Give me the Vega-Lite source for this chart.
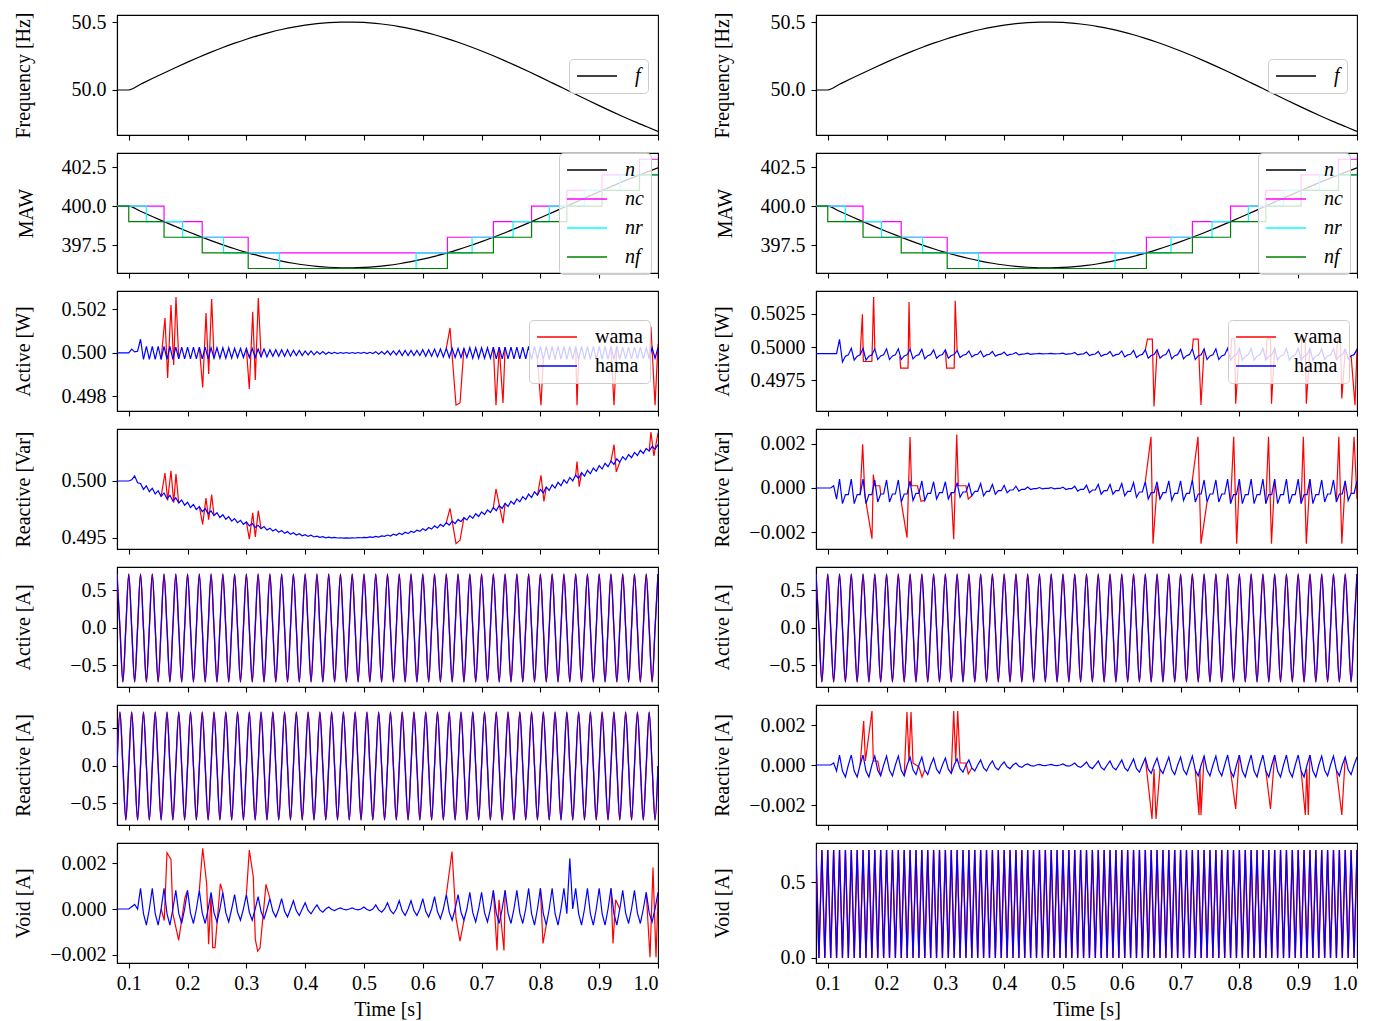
{
"$schema":"https://vega.github.io/schema/vega-lite/v6.json",
"padding":{"left":12,"top":11,"right":0,"bottom":0},
"config":{
 "font":"Liberation Serif",
 "view":{"stroke":"black","strokeWidth":1.1},
 "axis":{"grid":false,"labelFont":"Liberation Serif","titleFont":"Liberation Serif","labelFontSize":20,"titleFontSize":20,"titleFontWeight":"normal","tickSize":5,"tickColor":"black","domainColor":"black","labelColor":"black","titleColor":"black","tickWidth":1.1,"domainWidth":1.1,"labelPadding":6},
 "axisY":{"titleX":-88,"titleBaseline":"alphabetic"},
 "axisX":{"titlePadding":6,"labelPadding":5},
 "legend":{"symbolType":"M-4,0H4","symbolSize":100,"symbolStrokeWidth":1.3,"symbolOffset":11,"labelOffset":28,"labelFontSize":20,"labelFont":"Liberation Serif","labelColor":"black","fillColor":"rgba(255,255,255,0.8)","strokeColor":"#cccccc","cornerRadius":4,"padding":7,"rowPadding":9}
},
"datasets":{
"s":[
{"t":0.08,"f":50,"n":400},{"t":0.1,"f":50,"n":400},{"t":0.12,"f":50.0421,"n":399.664},{"t":0.14,"f":50.084,"n":399.33},{"t":0.16,"f":50.1252,"n":399.001},{"t":0.18,"f":50.1655,"n":398.68},{"t":0.2,"f":50.2047,"n":398.369},{"t":0.22,"f":50.2424,"n":398.07},{"t":0.24,"f":50.2784,"n":397.785},{"t":0.26,"f":50.3124,"n":397.516},{"t":0.28,"f":50.3442,"n":397.265},{"t":0.3,"f":50.3735,"n":397.034},{"t":0.32,"f":50.4001,"n":396.825},{"t":0.34,"f":50.424,"n":396.637},{"t":0.36,"f":50.4448,"n":396.473},{"t":0.38,"f":50.4625,"n":396.334},{"t":0.4,"f":50.4768,"n":396.222},{"t":0.42,"f":50.4878,"n":396.136},{"t":0.44,"f":50.4953,"n":396.077},{"t":0.46,"f":50.4993,"n":396.046},{"t":0.48,"f":50.4997,"n":396.042},{"t":0.5,"f":50.4967,"n":396.066},{"t":0.52,"f":50.4901,"n":396.118},{"t":0.54,"f":50.48,"n":396.197},{"t":0.56,"f":50.4664,"n":396.304},{"t":0.58,"f":50.4495,"n":396.436},{"t":0.6,"f":50.4294,"n":396.594},{"t":0.62,"f":50.4062,"n":396.777},{"t":0.64,"f":50.3801,"n":396.982},{"t":0.66,"f":50.3512,"n":397.21},{"t":0.68,"f":50.3201,"n":397.456},{"t":0.7,"f":50.2869,"n":397.718},{"t":0.72,"f":50.2514,"n":397.999},{"t":0.74,"f":50.2143,"n":398.293},{"t":0.76,"f":50.1755,"n":398.601},{"t":0.78,"f":50.1355,"n":398.919},{"t":0.8,"f":50.0944,"n":399.246},{"t":0.82,"f":50.0526,"n":399.58},{"t":0.84,"f":50.0105,"n":399.916},{"t":0.86,"f":49.9684,"n":400.253},{"t":0.88,"f":49.9265,"n":400.589},{"t":0.9,"f":49.8852,"n":400.921},{"t":0.92,"f":49.8446,"n":401.247},{"t":0.94,"f":49.8053,"n":401.564},{"t":0.96,"f":49.7674,"n":401.87},{"t":0.98,"f":49.7313,"n":402.161},{"t":1.0,"f":49.696,"n":402.447}
],
"st":[
{"s":"c","t":0.08,"n":400},{"s":"c","t":0.16,"n":399},{"s":"c","t":0.2249,"n":398},{"s":"c","t":0.3031,"n":397},{"s":"c","t":0.6419,"n":398},{"s":"c","t":0.7201,"n":399},{"s":"c","t":0.785,"n":400},{"s":"c","t":0.845,"n":401},{"s":"c","t":0.9048,"n":402},{"s":"c","t":0.9685,"n":403},{"s":"c","t":1.0,"n":403},
{"s":"r","t":0.08,"n":400},{"s":"r","t":0.1298,"n":399},{"s":"r","t":0.1915,"n":398},{"s":"r","t":0.2612,"n":397},{"s":"r","t":0.3564,"n":396},{"s":"r","t":0.5886,"n":397},{"s":"r","t":0.6838,"n":398},{"s":"r","t":0.7535,"n":399},{"s":"r","t":0.8152,"n":400},{"s":"r","t":0.8747,"n":401},{"s":"r","t":0.9358,"n":402},{"s":"r","t":1.0,"n":402},
{"s":"f","t":0.08,"n":400},{"s":"f","t":0.1,"n":399},{"s":"f","t":0.16,"n":398},{"s":"f","t":0.2249,"n":397},{"s":"f","t":0.3031,"n":396},{"s":"f","t":0.6419,"n":397},{"s":"f","t":0.7201,"n":398},{"s":"f","t":0.785,"n":399},{"s":"f","t":0.845,"n":400},{"s":"f","t":0.9048,"n":401},{"s":"f","t":0.9685,"n":402},{"s":"f","t":1.0,"n":402}
],
"g":[
{"t":0.08,"a":0.72,"r":0,"v":0.71,"p":0.5,"q":0.5,"w":0,"pp":0.4995,"qq":0,"rr":0},
{"t":0.085,"a":0,"r":0.72,"v":0,"p":0.5,"q":0.5,"w":0,"pp":0.4995,"qq":0,"rr":0},
{"t":0.09,"a":-0.72,"r":0,"v":0.71,"p":0.5,"q":0.5,"w":0,"pp":0.4995,"qq":0,"rr":0},
{"t":0.095,"a":0,"r":-0.72,"v":0,"p":0.5,"q":0.5,"w":0,"pp":0.4995,"qq":0,"rr":0},
{"t":0.1,"a":0.72,"r":0,"v":0.71,"p":0.5,"q":0.5,"w":0,"pp":0.4995,"qq":0,"rr":0},
{"t":0.105,"a":0,"r":0.72,"v":0,"p":0.50018,"q":0.5001,"w":0.0001,"pp":0.4995,"qq":0,"rr":0},
{"t":0.11,"a":-0.72,"r":0,"v":0.71,"p":0.50005,"q":0.50045,"w":0.0002,"pp":0.4995,"qq":0.0001,"rr":0.0001},
{"t":0.115,"a":0,"r":-0.72,"v":0,"p":0.50008,"q":0.49985,"w":0,"pp":0.4995,"qq":-0.0005,"rr":-0.0003},
{"t":0.12,"a":0.72,"r":0,"v":0.71,"p":0.50063,"q":0.49978,"w":0.0009,"pp":0.50058,"qq":0.0004,"rr":0.0005},
{"t":0.125,"a":0,"r":0.72,"v":0,"p":0.4997,"q":0.49927,"w":-0.0002,"pp":0.49886,"qq":-0.0007,"rr":-0.0003},
{"t":0.13,"a":-0.72,"r":0,"v":0.71,"p":0.5003,"q":0.49957,"w":-0.0007,"pp":0.4993,"qq":-0.0003,"rr":-0.0006},
{"t":0.135,"a":0,"r":-0.72,"v":0,"p":0.4997,"q":0.49906,"w":0,"pp":0.4994,"qq":-0.0003,"rr":0},
{"t":0.14,"a":0.72,"r":0,"v":0.71,"p":0.5003,"q":0.49936,"w":0.0009,"pp":0.4999,"qq":0.0004,"rr":0.0005},
{"t":0.145,"a":0,"r":0.72,"v":0,"p":0.4997,"q":0.49886,"w":-0.0002,"pp":0.499,"qq":-0.0007,"rr":-0.0003},
{"t":0.15,"a":-0.72,"r":0,"v":0.71,"p":0.5003,"q":0.49915,"w":-0.0007,"pp":0.4993,"qq":-0.0003,"rr":-0.0006},
{"t":0.155,"a":0,"r":-0.72,"v":0,"p":0.4997,"q":0.49865,"w":0,"pp":0.4994,"qq":-0.0003,"rr":0},
{"t":0.16,"a":0.72,"r":0,"v":0.71,"p":0.5003,"q":0.49895,"w":0.0009,"pp":0.4999,"qq":0.0004,"rr":0.0005},
{"t":0.165,"a":0,"r":0.72,"v":0,"p":0.4997,"q":0.49845,"w":-0.0002,"pp":0.499,"qq":-0.0007,"rr":-0.0003},
{"t":0.17,"a":-0.72,"r":0,"v":0.71,"p":0.5003,"q":0.49875,"w":-0.0007,"pp":0.4993,"qq":-0.0003,"rr":-0.0006},
{"t":0.175,"a":0,"r":-0.72,"v":0,"p":0.4997,"q":0.49825,"w":0,"pp":0.4994,"qq":-0.0003,"rr":0},
{"t":0.18,"a":0.72,"r":0,"v":0.71,"p":0.50027,"q":0.49853,"w":0.00081,"pp":0.49986,"qq":0.00036,"rr":0.00045},
{"t":0.185,"a":0,"r":0.72,"v":0,"p":0.49973,"q":0.49807,"w":-0.00018,"pp":0.49905,"qq":-0.00063,"rr":-0.00027},
{"t":0.19,"a":-0.72,"r":0,"v":0.71,"p":0.50027,"q":0.49833,"w":-0.00063,"pp":0.49932,"qq":-0.00027,"rr":-0.00054},
{"t":0.195,"a":0,"r":-0.72,"v":0,"p":0.49973,"q":0.49787,"w":0,"pp":0.49941,"qq":-0.00027,"rr":0},
{"t":0.2,"a":0.72,"r":0,"v":0.71,"p":0.50027,"q":0.49813,"w":0.00081,"pp":0.49986,"qq":0.00036,"rr":0.00045},
{"t":0.205,"a":0,"r":0.72,"v":0,"p":0.49973,"q":0.49768,"w":-0.00018,"pp":0.49905,"qq":-0.00063,"rr":-0.00027},
{"t":0.21,"a":-0.72,"r":0,"v":0.71,"p":0.50027,"q":0.49794,"w":-0.00063,"pp":0.49932,"qq":-0.00027,"rr":-0.00054},
{"t":0.215,"a":0,"r":-0.72,"v":0,"p":0.49973,"q":0.49749,"w":0,"pp":0.49941,"qq":-0.00027,"rr":0},
{"t":0.22,"a":0.72,"r":0,"v":0.71,"p":0.50027,"q":0.49776,"w":0.00081,"pp":0.49986,"qq":0.00036,"rr":0.00045},
{"t":0.225,"a":0,"r":0.72,"v":0,"p":0.49973,"q":0.49731,"w":-0.00018,"pp":0.49905,"qq":-0.00063,"rr":-0.00027},
{"t":0.23,"a":-0.72,"r":0,"v":0.71,"p":0.50027,"q":0.49758,"w":-0.00063,"pp":0.49932,"qq":-0.00027,"rr":-0.00054},
{"t":0.235,"a":0,"r":-0.72,"v":0,"p":0.49973,"q":0.49713,"w":0,"pp":0.49941,"qq":-0.00027,"rr":0},
{"t":0.24,"a":0.72,"r":0,"v":0.71,"p":0.50024,"q":0.49738,"w":0.00072,"pp":0.49982,"qq":0.00032,"rr":0.0004},
{"t":0.245,"a":0,"r":0.72,"v":0,"p":0.49976,"q":0.49697,"w":-0.00016,"pp":0.4991,"qq":-0.00056,"rr":-0.00024},
{"t":0.25,"a":-0.72,"r":0,"v":0.71,"p":0.50024,"q":0.49721,"w":-0.00056,"pp":0.49934,"qq":-0.00024,"rr":-0.00048},
{"t":0.255,"a":0,"r":-0.72,"v":0,"p":0.49976,"q":0.4968,"w":0,"pp":0.49942,"qq":-0.00024,"rr":0},
{"t":0.26,"a":0.72,"r":0,"v":0.71,"p":0.50024,"q":0.49704,"w":0.00072,"pp":0.49982,"qq":0.00032,"rr":0.0004},
{"t":0.265,"a":0,"r":0.72,"v":0,"p":0.49976,"q":0.49664,"w":-0.00016,"pp":0.4991,"qq":-0.00056,"rr":-0.00024},
{"t":0.27,"a":-0.72,"r":0,"v":0.71,"p":0.50024,"q":0.49688,"w":-0.00056,"pp":0.49934,"qq":-0.00024,"rr":-0.00048},
{"t":0.275,"a":0,"r":-0.72,"v":0,"p":0.49976,"q":0.49648,"w":0,"pp":0.49942,"qq":-0.00024,"rr":0},
{"t":0.28,"a":0.72,"r":0,"v":0.71,"p":0.50021,"q":0.4967,"w":0.00063,"pp":0.49978,"qq":0.00028,"rr":0.00035},
{"t":0.285,"a":0,"r":0.72,"v":0,"p":0.49979,"q":0.49635,"w":-0.00014,"pp":0.49915,"qq":-0.00049,"rr":-0.00021},
{"t":0.29,"a":-0.72,"r":0,"v":0.71,"p":0.50021,"q":0.49655,"w":-0.00049,"pp":0.49936,"qq":-0.00021,"rr":-0.00042},
{"t":0.295,"a":0,"r":-0.72,"v":0,"p":0.49979,"q":0.4962,"w":0,"pp":0.49943,"qq":-0.00021,"rr":0},
{"t":0.3,"a":0.72,"r":0,"v":0.71,"p":0.50021,"q":0.49641,"w":0.00063,"pp":0.49978,"qq":0.00028,"rr":0.00035},
{"t":0.305,"a":0,"r":0.72,"v":0,"p":0.49979,"q":0.49606,"w":-0.00014,"pp":0.49915,"qq":-0.00049,"rr":-0.00021},
{"t":0.31,"a":-0.72,"r":0,"v":0.71,"p":0.50021,"q":0.49627,"w":-0.00049,"pp":0.49936,"qq":-0.00021,"rr":-0.00042},
{"t":0.315,"a":0,"r":-0.72,"v":0,"p":0.49979,"q":0.49593,"w":0,"pp":0.49943,"qq":-0.00021,"rr":0},
{"t":0.32,"a":0.72,"r":0,"v":0.71,"p":0.50018,"q":0.49612,"w":0.00054,"pp":0.49974,"qq":0.00024,"rr":0.0003},
{"t":0.325,"a":0,"r":0.72,"v":0,"p":0.49982,"q":0.49582,"w":-0.00012,"pp":0.4992,"qq":-0.00042,"rr":-0.00018},
{"t":0.33,"a":-0.72,"r":0,"v":0.71,"p":0.50018,"q":0.496,"w":-0.00042,"pp":0.49938,"qq":-0.00018,"rr":-0.00036},
{"t":0.335,"a":0,"r":-0.72,"v":0,"p":0.49982,"q":0.4957,"w":0,"pp":0.49944,"qq":-0.00018,"rr":0},
{"t":0.34,"a":0.72,"r":0,"v":0.71,"p":0.50015,"q":0.49586,"w":0.00045,"pp":0.4997,"qq":0.0002,"rr":0.00025},
{"t":0.345,"a":0,"r":0.72,"v":0,"p":0.49985,"q":0.49561,"w":-0.0001,"pp":0.49925,"qq":-0.00035,"rr":-0.00015},
{"t":0.35,"a":-0.72,"r":0,"v":0.71,"p":0.50015,"q":0.49576,"w":-0.00035,"pp":0.4994,"qq":-0.00015,"rr":-0.0003},
{"t":0.355,"a":0,"r":-0.72,"v":0,"p":0.49985,"q":0.4955,"w":0,"pp":0.49945,"qq":-0.00015,"rr":0},
{"t":0.36,"a":0.72,"r":0,"v":0.71,"p":0.50015,"q":0.49565,"w":0.00045,"pp":0.4997,"qq":0.0002,"rr":0.00025},
{"t":0.365,"a":0,"r":0.72,"v":0,"p":0.49985,"q":0.49541,"w":-0.0001,"pp":0.49925,"qq":-0.00035,"rr":-0.00015},
{"t":0.37,"a":-0.72,"r":0,"v":0.71,"p":0.50015,"q":0.49556,"w":-0.00035,"pp":0.4994,"qq":-0.00015,"rr":-0.0003},
{"t":0.375,"a":0,"r":-0.72,"v":0,"p":0.49985,"q":0.49532,"w":0,"pp":0.49945,"qq":-0.00015,"rr":0},
{"t":0.38,"a":0.72,"r":0,"v":0.71,"p":0.50012,"q":0.49546,"w":0.00036,"pp":0.49966,"qq":0.00016,"rr":0.0002},
{"t":0.385,"a":0,"r":0.72,"v":0,"p":0.49988,"q":0.49526,"w":-0.00008,"pp":0.4993,"qq":-0.00028,"rr":-0.00012},
{"t":0.39,"a":-0.72,"r":0,"v":0.71,"p":0.50012,"q":0.49538,"w":-0.00028,"pp":0.49942,"qq":-0.00012,"rr":-0.00024},
{"t":0.395,"a":0,"r":-0.72,"v":0,"p":0.49988,"q":0.49519,"w":0,"pp":0.49946,"qq":-0.00012,"rr":0},
{"t":0.4,"a":0.72,"r":0,"v":0.71,"p":0.50009,"q":0.49529,"w":0.00027,"pp":0.49962,"qq":0.00012,"rr":0.00015},
{"t":0.405,"a":0,"r":0.72,"v":0,"p":0.49991,"q":0.49514,"w":-0.00006,"pp":0.49935,"qq":-0.00021,"rr":-0.00009},
{"t":0.41,"a":-0.72,"r":0,"v":0.71,"p":0.50009,"q":0.49524,"w":-0.00021,"pp":0.49944,"qq":-0.00009,"rr":-0.00018},
{"t":0.415,"a":0,"r":-0.72,"v":0,"p":0.49991,"q":0.49509,"w":0,"pp":0.49947,"qq":-0.00009,"rr":0},
{"t":0.42,"a":0.72,"r":0,"v":0.71,"p":0.50006,"q":0.49516,"w":0.00018,"pp":0.49958,"qq":0.00008,"rr":0.0001},
{"t":0.425,"a":0,"r":0.72,"v":0,"p":0.49994,"q":0.49506,"w":-0.00004,"pp":0.4994,"qq":-0.00014,"rr":-0.00006},
{"t":0.43,"a":-0.72,"r":0,"v":0.71,"p":0.50006,"q":0.49512,"w":-0.00014,"pp":0.49946,"qq":-0.00006,"rr":-0.00012},
{"t":0.435,"a":0,"r":-0.72,"v":0,"p":0.49994,"q":0.49502,"w":0,"pp":0.49948,"qq":-0.00006,"rr":0},
{"t":0.44,"a":0.72,"r":0,"v":0.71,"p":0.50003,"q":0.49507,"w":0.00009,"pp":0.49954,"qq":0.00004,"rr":0.00005},
{"t":0.445,"a":0,"r":0.72,"v":0,"p":0.49997,"q":0.49502,"w":-0.00002,"pp":0.49945,"qq":-0.00007,"rr":-0.00003},
{"t":0.45,"a":-0.72,"r":0,"v":0.71,"p":0.50003,"q":0.49505,"w":-0.00007,"pp":0.49948,"qq":-0.00003,"rr":-0.00006},
{"t":0.455,"a":0,"r":-0.72,"v":0,"p":0.49997,"q":0.495,"w":0,"pp":0.49949,"qq":-0.00003,"rr":0},
{"t":0.46,"a":0.72,"r":0,"v":0.71,"p":0.50002,"q":0.49502,"w":0.00005,"pp":0.49952,"qq":0.00002,"rr":0.00003},
{"t":0.465,"a":0,"r":0.72,"v":0,"p":0.49998,"q":0.49499,"w":-0.00001,"pp":0.49948,"qq":-0.00004,"rr":-0.00002},
{"t":0.47,"a":-0.72,"r":0,"v":0.71,"p":0.50002,"q":0.49501,"w":-0.00004,"pp":0.49949,"qq":-0.00002,"rr":-0.00003},
{"t":0.475,"a":0,"r":-0.72,"v":0,"p":0.49998,"q":0.49499,"w":0,"pp":0.4995,"qq":-0.00002,"rr":0},
{"t":0.48,"a":0.72,"r":0,"v":0.71,"p":0.50002,"q":0.49501,"w":0.00005,"pp":0.49952,"qq":0.00002,"rr":0.00003},
{"t":0.485,"a":0,"r":0.72,"v":0,"p":0.49998,"q":0.495,"w":-0.00001,"pp":0.49948,"qq":-0.00004,"rr":-0.00002},
{"t":0.49,"a":-0.72,"r":0,"v":0.71,"p":0.50002,"q":0.49503,"w":-0.00004,"pp":0.49949,"qq":-0.00002,"rr":-0.00003},
{"t":0.495,"a":0,"r":-0.72,"v":0,"p":0.49998,"q":0.49502,"w":0,"pp":0.4995,"qq":-0.00002,"rr":0},
{"t":0.5,"a":0.72,"r":0,"v":0.71,"p":0.50003,"q":0.49505,"w":0.00009,"pp":0.49954,"qq":0.00004,"rr":0.00005},
{"t":0.505,"a":0,"r":0.72,"v":0,"p":0.49997,"q":0.49503,"w":-0.00002,"pp":0.49945,"qq":-0.00007,"rr":-0.00003},
{"t":0.51,"a":-0.72,"r":0,"v":0.71,"p":0.50003,"q":0.49509,"w":-0.00007,"pp":0.49948,"qq":-0.00003,"rr":-0.00006},
{"t":0.515,"a":0,"r":-0.72,"v":0,"p":0.49997,"q":0.49506,"w":0,"pp":0.49949,"qq":-0.00003,"rr":0},
{"t":0.52,"a":0.72,"r":0,"v":0.71,"p":0.50006,"q":0.49514,"w":0.00018,"pp":0.49958,"qq":0.00008,"rr":0.0001},
{"t":0.525,"a":0,"r":0.72,"v":0,"p":0.49994,"q":0.49508,"w":-0.00004,"pp":0.4994,"qq":-0.00014,"rr":-0.00006},
{"t":0.53,"a":-0.72,"r":0,"v":0.71,"p":0.50006,"q":0.49519,"w":-0.00014,"pp":0.49946,"qq":-0.00006,"rr":-0.00012},
{"t":0.535,"a":0,"r":-0.72,"v":0,"p":0.49994,"q":0.49514,"w":0,"pp":0.49948,"qq":-0.00006,"rr":0},
{"t":0.54,"a":0.72,"r":0,"v":0.71,"p":0.50009,"q":0.49526,"w":0.00027,"pp":0.49962,"qq":0.00012,"rr":0.00015},
{"t":0.545,"a":0,"r":0.72,"v":0,"p":0.49991,"q":0.49517,"w":-0.00006,"pp":0.49935,"qq":-0.00021,"rr":-0.00009},
{"t":0.55,"a":-0.72,"r":0,"v":0.71,"p":0.50009,"q":0.49533,"w":-0.00021,"pp":0.49944,"qq":-0.00009,"rr":-0.00018},
{"t":0.555,"a":0,"r":-0.72,"v":0,"p":0.49991,"q":0.49524,"w":0,"pp":0.49947,"qq":-0.00009,"rr":0},
{"t":0.56,"a":0.72,"r":0,"v":0.71,"p":0.50012,"q":0.49542,"w":0.00036,"pp":0.49966,"qq":0.00016,"rr":0.0002},
{"t":0.565,"a":0,"r":0.72,"v":0,"p":0.49988,"q":0.4953,"w":-0.00008,"pp":0.4993,"qq":-0.00028,"rr":-0.00012},
{"t":0.57,"a":-0.72,"r":0,"v":0.71,"p":0.50012,"q":0.4955,"w":-0.00028,"pp":0.49942,"qq":-0.00012,"rr":-0.00024},
{"t":0.575,"a":0,"r":-0.72,"v":0,"p":0.49988,"q":0.49538,"w":0,"pp":0.49946,"qq":-0.00012,"rr":0},
{"t":0.58,"a":0.72,"r":0,"v":0.71,"p":0.50012,"q":0.49559,"w":0.00036,"pp":0.49966,"qq":0.00016,"rr":0.0002},
{"t":0.585,"a":0,"r":0.72,"v":0,"p":0.49988,"q":0.49548,"w":-0.00008,"pp":0.4993,"qq":-0.00028,"rr":-0.00012},
{"t":0.59,"a":-0.72,"r":0,"v":0.71,"p":0.50012,"q":0.49569,"w":-0.00028,"pp":0.49942,"qq":-0.00012,"rr":-0.00024},
{"t":0.595,"a":0,"r":-0.72,"v":0,"p":0.49988,"q":0.49558,"w":0,"pp":0.49946,"qq":-0.00012,"rr":0},
{"t":0.6,"a":0.72,"r":0,"v":0.71,"p":0.50015,"q":0.49581,"w":0.00045,"pp":0.4997,"qq":0.0002,"rr":0.00025},
{"t":0.605,"a":0,"r":0.72,"v":0,"p":0.49985,"q":0.49566,"w":-0.0001,"pp":0.49925,"qq":-0.00035,"rr":-0.00015},
{"t":0.61,"a":-0.72,"r":0,"v":0.71,"p":0.50015,"q":0.49592,"w":-0.00035,"pp":0.4994,"qq":-0.00015,"rr":-0.0003},
{"t":0.615,"a":0,"r":-0.72,"v":0,"p":0.49985,"q":0.49578,"w":0,"pp":0.49945,"qq":-0.00015,"rr":0},
{"t":0.62,"a":0.72,"r":0,"v":0.71,"p":0.50018,"q":0.49606,"w":0.00054,"pp":0.49974,"qq":0.00024,"rr":0.0003},
{"t":0.625,"a":0,"r":0.72,"v":0,"p":0.49982,"q":0.49588,"w":-0.00012,"pp":0.4992,"qq":-0.00042,"rr":-0.00018},
{"t":0.63,"a":-0.72,"r":0,"v":0.71,"p":0.50018,"q":0.49619,"w":-0.00042,"pp":0.49938,"qq":-0.00018,"rr":-0.00036},
{"t":0.635,"a":0,"r":-0.72,"v":0,"p":0.49982,"q":0.49601,"w":0,"pp":0.49944,"qq":-0.00018,"rr":0},
{"t":0.64,"a":0.72,"r":0,"v":0.71,"p":0.50021,"q":0.49634,"w":0.00063,"pp":0.49978,"qq":0.00028,"rr":0.00035},
{"t":0.645,"a":0,"r":0.72,"v":0,"p":0.49979,"q":0.49613,"w":-0.00014,"pp":0.49915,"qq":-0.00049,"rr":-0.00021},
{"t":0.65,"a":-0.72,"r":0,"v":0.71,"p":0.50021,"q":0.49648,"w":-0.00049,"pp":0.49936,"qq":-0.00021,"rr":-0.00042},
{"t":0.655,"a":0,"r":-0.72,"v":0,"p":0.49979,"q":0.49627,"w":0,"pp":0.49943,"qq":-0.00021,"rr":0},
{"t":0.66,"a":0.72,"r":0,"v":0.71,"p":0.50021,"q":0.49663,"w":0.00063,"pp":0.49978,"qq":0.00028,"rr":0.00035},
{"t":0.665,"a":0,"r":0.72,"v":0,"p":0.49979,"q":0.49643,"w":-0.00014,"pp":0.49915,"qq":-0.00049,"rr":-0.00021},
{"t":0.67,"a":-0.72,"r":0,"v":0.71,"p":0.50021,"q":0.49678,"w":-0.00049,"pp":0.49936,"qq":-0.00021,"rr":-0.00042},
{"t":0.675,"a":0,"r":-0.72,"v":0,"p":0.49979,"q":0.49658,"w":0,"pp":0.49943,"qq":-0.00021,"rr":0},
{"t":0.68,"a":0.72,"r":0,"v":0.71,"p":0.50024,"q":0.49696,"w":0.00072,"pp":0.49982,"qq":0.00032,"rr":0.0004},
{"t":0.685,"a":0,"r":0.72,"v":0,"p":0.49976,"q":0.49672,"w":-0.00016,"pp":0.4991,"qq":-0.00056,"rr":-0.00024},
{"t":0.69,"a":-0.72,"r":0,"v":0.71,"p":0.50024,"q":0.49713,"w":-0.00056,"pp":0.49934,"qq":-0.00024,"rr":-0.00048},
{"t":0.695,"a":0,"r":-0.72,"v":0,"p":0.49976,"q":0.49689,"w":0,"pp":0.49942,"qq":-0.00024,"rr":0},
{"t":0.7,"a":0.72,"r":0,"v":0.71,"p":0.50024,"q":0.49729,"w":0.00072,"pp":0.49982,"qq":0.00032,"rr":0.0004},
{"t":0.705,"a":0,"r":0.72,"v":0,"p":0.49976,"q":0.49706,"w":-0.00016,"pp":0.4991,"qq":-0.00056,"rr":-0.00024},
{"t":0.71,"a":-0.72,"r":0,"v":0.71,"p":0.50024,"q":0.49747,"w":-0.00056,"pp":0.49934,"qq":-0.00024,"rr":-0.00048},
{"t":0.715,"a":0,"r":-0.72,"v":0,"p":0.49976,"q":0.49724,"w":0,"pp":0.49942,"qq":-0.00024,"rr":0},
{"t":0.72,"a":0.72,"r":0,"v":0.71,"p":0.50027,"q":0.49767,"w":0.00081,"pp":0.49986,"qq":0.00036,"rr":0.00045},
{"t":0.725,"a":0,"r":0.72,"v":0,"p":0.49973,"q":0.4974,"w":-0.00018,"pp":0.49905,"qq":-0.00063,"rr":-0.00027},
{"t":0.73,"a":-0.72,"r":0,"v":0.71,"p":0.50027,"q":0.49785,"w":-0.00063,"pp":0.49932,"qq":-0.00027,"rr":-0.00054},
{"t":0.735,"a":0,"r":-0.72,"v":0,"p":0.49973,"q":0.49759,"w":0,"pp":0.49941,"qq":-0.00027,"rr":0},
{"t":0.74,"a":0.72,"r":0,"v":0.71,"p":0.50027,"q":0.49804,"w":0.00081,"pp":0.49986,"qq":0.00036,"rr":0.00045},
{"t":0.745,"a":0,"r":0.72,"v":0,"p":0.49973,"q":0.49777,"w":-0.00018,"pp":0.49905,"qq":-0.00063,"rr":-0.00027},
{"t":0.75,"a":-0.72,"r":0,"v":0.71,"p":0.50027,"q":0.49823,"w":-0.00063,"pp":0.49932,"qq":-0.00027,"rr":-0.00054},
{"t":0.755,"a":0,"r":-0.72,"v":0,"p":0.49973,"q":0.49797,"w":0,"pp":0.49941,"qq":-0.00027,"rr":0},
{"t":0.76,"a":0.72,"r":0,"v":0.71,"p":0.50027,"q":0.49843,"w":0.00081,"pp":0.49986,"qq":0.00036,"rr":0.00045},
{"t":0.765,"a":0,"r":0.72,"v":0,"p":0.49973,"q":0.49817,"w":-0.00018,"pp":0.49905,"qq":-0.00063,"rr":-0.00027},
{"t":0.77,"a":-0.72,"r":0,"v":0.71,"p":0.50027,"q":0.49863,"w":-0.00063,"pp":0.49932,"qq":-0.00027,"rr":-0.00054},
{"t":0.775,"a":0,"r":-0.72,"v":0,"p":0.49973,"q":0.49837,"w":0,"pp":0.49941,"qq":-0.00027,"rr":0},
{"t":0.78,"a":0.72,"r":0,"v":0.71,"p":0.5003,"q":0.49885,"w":0.0009,"pp":0.4999,"qq":0.0004,"rr":0.0005},
{"t":0.785,"a":0,"r":0.72,"v":0,"p":0.4997,"q":0.49855,"w":-0.0002,"pp":0.499,"qq":-0.0007,"rr":-0.0003},
{"t":0.79,"a":-0.72,"r":0,"v":0.71,"p":0.5003,"q":0.49905,"w":-0.0007,"pp":0.4993,"qq":-0.0003,"rr":-0.0006},
{"t":0.795,"a":0,"r":-0.72,"v":0,"p":0.4997,"q":0.49875,"w":0,"pp":0.4994,"qq":-0.0003,"rr":0},
{"t":0.8,"a":0.72,"r":0,"v":0.71,"p":0.5003,"q":0.49926,"w":0.0009,"pp":0.4999,"qq":0.0004,"rr":0.0005},
{"t":0.805,"a":0,"r":0.72,"v":0,"p":0.4997,"q":0.49896,"w":-0.0002,"pp":0.499,"qq":-0.0007,"rr":-0.0003},
{"t":0.81,"a":-0.72,"r":0,"v":0.71,"p":0.5003,"q":0.49947,"w":-0.0007,"pp":0.4993,"qq":-0.0003,"rr":-0.0006},
{"t":0.815,"a":0,"r":-0.72,"v":0,"p":0.4997,"q":0.49917,"w":0,"pp":0.4994,"qq":-0.0003,"rr":0},
{"t":0.82,"a":0.72,"r":0,"v":0.71,"p":0.5003,"q":0.49967,"w":0.0009,"pp":0.4999,"qq":0.0004,"rr":0.0005},
{"t":0.825,"a":0,"r":0.72,"v":0,"p":0.4997,"q":0.49938,"w":-0.0002,"pp":0.499,"qq":-0.0007,"rr":-0.0003},
{"t":0.83,"a":-0.72,"r":0,"v":0.71,"p":0.5003,"q":0.49988,"w":-0.0007,"pp":0.4993,"qq":-0.0003,"rr":-0.0006},
{"t":0.835,"a":0,"r":-0.72,"v":0,"p":0.4997,"q":0.49959,"w":0,"pp":0.4994,"qq":-0.0003,"rr":0},
{"t":0.84,"a":0.72,"r":0,"v":0.71,"p":0.5003,"q":0.5001,"w":0.0009,"pp":0.4999,"qq":0.0004,"rr":0.0005},
{"t":0.845,"a":0,"r":0.72,"v":0,"p":0.4997,"q":0.4998,"w":-0.0002,"pp":0.499,"qq":-0.0007,"rr":-0.0003},
{"t":0.85,"a":-0.72,"r":0,"v":0.71,"p":0.5003,"q":0.50031,"w":0.0022,"pp":0.4993,"qq":-0.0003,"rr":-0.0006},
{"t":0.855,"a":0,"r":-0.72,"v":0,"p":0.4997,"q":0.50001,"w":0,"pp":0.4994,"qq":-0.0003,"rr":0},
{"t":0.86,"a":0.72,"r":0,"v":0.71,"p":0.5003,"q":0.50052,"w":0.0009,"pp":0.4999,"qq":0.0004,"rr":0.0005},
{"t":0.865,"a":0,"r":0.72,"v":0,"p":0.4997,"q":0.50022,"w":-0.0002,"pp":0.499,"qq":-0.0007,"rr":-0.0003},
{"t":0.87,"a":-0.72,"r":0,"v":0.71,"p":0.5003,"q":0.50073,"w":-0.0007,"pp":0.4993,"qq":-0.0003,"rr":-0.0006},
{"t":0.875,"a":0,"r":-0.72,"v":0,"p":0.4997,"q":0.50043,"w":0,"pp":0.4994,"qq":-0.0003,"rr":0},
{"t":0.88,"a":0.72,"r":0,"v":0.71,"p":0.5003,"q":0.50094,"w":0.0009,"pp":0.4999,"qq":0.0004,"rr":0.0005},
{"t":0.885,"a":0,"r":0.72,"v":0,"p":0.4997,"q":0.50064,"w":-0.0002,"pp":0.499,"qq":-0.0007,"rr":-0.0003},
{"t":0.89,"a":-0.72,"r":0,"v":0.71,"p":0.5003,"q":0.50114,"w":-0.0007,"pp":0.4993,"qq":-0.0003,"rr":-0.0006},
{"t":0.895,"a":0,"r":-0.72,"v":0,"p":0.4997,"q":0.50085,"w":0,"pp":0.4994,"qq":-0.0003,"rr":0},
{"t":0.9,"a":0.72,"r":0,"v":0.71,"p":0.5003,"q":0.50135,"w":0.0009,"pp":0.4999,"qq":0.0004,"rr":0.0005},
{"t":0.905,"a":0,"r":0.72,"v":0,"p":0.4997,"q":0.50105,"w":-0.0002,"pp":0.499,"qq":-0.0007,"rr":-0.0003},
{"t":0.91,"a":-0.72,"r":0,"v":0.71,"p":0.5003,"q":0.50155,"w":-0.0007,"pp":0.4993,"qq":-0.0003,"rr":-0.0006},
{"t":0.915,"a":0,"r":-0.72,"v":0,"p":0.4997,"q":0.50125,"w":0,"pp":0.4994,"qq":-0.0003,"rr":0},
{"t":0.92,"a":0.72,"r":0,"v":0.71,"p":0.5003,"q":0.50175,"w":0.0009,"pp":0.4999,"qq":0.0004,"rr":0.0005},
{"t":0.925,"a":0,"r":0.72,"v":0,"p":0.4997,"q":0.50145,"w":-0.0002,"pp":0.499,"qq":-0.0007,"rr":-0.0003},
{"t":0.93,"a":-0.72,"r":0,"v":0.71,"p":0.5003,"q":0.50195,"w":-0.0007,"pp":0.4993,"qq":-0.0003,"rr":-0.0006},
{"t":0.935,"a":0,"r":-0.72,"v":0,"p":0.4997,"q":0.50165,"w":0,"pp":0.4994,"qq":-0.0003,"rr":0},
{"t":0.94,"a":0.72,"r":0,"v":0.71,"p":0.50027,"q":0.50213,"w":0.00081,"pp":0.49986,"qq":0.00036,"rr":0.00045},
{"t":0.945,"a":0,"r":0.72,"v":0,"p":0.49973,"q":0.50186,"w":-0.00018,"pp":0.49905,"qq":-0.00063,"rr":-0.00027},
{"t":0.95,"a":-0.72,"r":0,"v":0.71,"p":0.50027,"q":0.50232,"w":-0.00063,"pp":0.49932,"qq":-0.00027,"rr":-0.00054},
{"t":0.955,"a":0,"r":-0.72,"v":0,"p":0.49973,"q":0.50205,"w":0,"pp":0.49941,"qq":-0.00027,"rr":0},
{"t":0.96,"a":0.72,"r":0,"v":0.71,"p":0.50027,"q":0.50251,"w":0.00081,"pp":0.49986,"qq":0.00036,"rr":0.00045},
{"t":0.965,"a":0,"r":0.72,"v":0,"p":0.49973,"q":0.50224,"w":-0.00018,"pp":0.49905,"qq":-0.00063,"rr":-0.00027},
{"t":0.97,"a":-0.72,"r":0,"v":0.71,"p":0.50027,"q":0.50269,"w":-0.00063,"pp":0.49932,"qq":-0.00027,"rr":-0.00054},
{"t":0.975,"a":0,"r":-0.72,"v":0,"p":0.49973,"q":0.50242,"w":0,"pp":0.49941,"qq":-0.00027,"rr":0},
{"t":0.98,"a":0.72,"r":0,"v":0.71,"p":0.50024,"q":0.50285,"w":0.00072,"pp":0.49982,"qq":0.00032,"rr":0.0004},
{"t":0.985,"a":0,"r":0.72,"v":0,"p":0.49976,"q":0.50262,"w":-0.00016,"pp":0.4991,"qq":-0.00056,"rr":-0.00024},
{"t":0.99,"a":-0.72,"r":0,"v":0.71,"p":0.50024,"q":0.50303,"w":-0.00056,"pp":0.49934,"qq":-0.00024,"rr":-0.00048},
{"t":0.995,"a":0,"r":-0.72,"v":0,"p":0.49976,"q":0.50279,"w":0,"pp":0.49942,"qq":-0.00024,"rr":0},
{"t":1.0,"a":0.72,"r":0,"v":0.71,"p":0.50024,"q":0.5032,"w":0.00072,"pp":0.49982,"qq":0.00032,"rr":0.0004}
],
"red":[
{"pan":"L3","g":1,"t":0.155,"p":0.4997},{"pan":"L3","g":1,"t":0.1616,"p":0.50161},{"pan":"L3","g":1,"t":0.1661,"p":0.49885},{"pan":"L3","g":1,"t":0.1718,"p":0.50221},{"pan":"L3","g":1,"t":0.1764,"p":0.49945},{"pan":"L3","g":1,"t":0.1803,"p":0.50257},{"pan":"L3","g":1,"t":0.185,"p":0.49973},
{"pan":"L3","g":2,"t":0.22,"p":0.50027},{"pan":"L3","g":2,"t":0.2257,"p":0.49841},{"pan":"L3","g":2,"t":0.2314,"p":0.50184},{"pan":"L3","g":2,"t":0.2359,"p":0.49903},{"pan":"L3","g":2,"t":0.241,"p":0.50248},{"pan":"L3","g":2,"t":0.245,"p":0.49976},
{"pan":"L3","g":3,"t":0.3,"p":0.50021},{"pan":"L3","g":3,"t":0.305,"p":0.49834},{"pan":"L3","g":3,"t":0.3108,"p":0.50189},{"pan":"L3","g":3,"t":0.3152,"p":0.49876},{"pan":"L3","g":3,"t":0.3203,"p":0.50253},{"pan":"L3","g":3,"t":0.325,"p":0.49982},
{"pan":"L3","g":4,"t":0.64,"p":0.50021},{"pan":"L3","g":4,"t":0.6463,"p":0.50115},{"pan":"L3","g":4,"t":0.6565,"p":0.4976},{"pan":"L3","g":4,"t":0.6633,"p":0.4977},{"pan":"L3","g":4,"t":0.67,"p":0.50021},
{"pan":"L3","g":5,"t":0.72,"p":0.50027},{"pan":"L3","g":5,"t":0.7245,"p":0.4976},{"pan":"L3","g":5,"t":0.73,"p":0.50027},{"pan":"L3","g":5,"t":0.7364,"p":0.4977},{"pan":"L3","g":5,"t":0.74,"p":0.50027},
{"pan":"L3","g":6,"t":0.795,"p":0.4997},{"pan":"L3","g":6,"t":0.801,"p":0.4976},{"pan":"L3","g":6,"t":0.805,"p":0.4997},
{"pan":"L3","g":7,"t":0.86,"p":0.5003},{"pan":"L3","g":7,"t":0.8623,"p":0.4976},{"pan":"L3","g":7,"t":0.865,"p":0.4997},
{"pan":"L3","g":8,"t":0.92,"p":0.5003},{"pan":"L3","g":8,"t":0.9252,"p":0.4976},{"pan":"L3","g":8,"t":0.93,"p":0.5003},
{"pan":"L3","g":9,"t":0.985,"p":0.49976},{"pan":"L3","g":9,"t":0.988,"p":0.5012},{"pan":"L3","g":9,"t":0.995,"p":0.4976},{"pan":"L3","g":9,"t":1.0,"p":0.5004},
{"pan":"L4","g":1,"t":0.155,"q":0.49865},{"pan":"L4","g":1,"t":0.1616,"q":0.5007},{"pan":"L4","g":1,"t":0.1661,"q":0.4983},{"pan":"L4","g":1,"t":0.1718,"q":0.5009},{"pan":"L4","g":1,"t":0.1764,"q":0.4981},{"pan":"L4","g":1,"t":0.1803,"q":0.5006},{"pan":"L4","g":1,"t":0.185,"q":0.49807},
{"pan":"L4","g":2,"t":0.22,"q":0.49776},{"pan":"L4","g":2,"t":0.2257,"q":0.4962},{"pan":"L4","g":2,"t":0.2314,"q":0.4985},{"pan":"L4","g":2,"t":0.2359,"q":0.4966},{"pan":"L4","g":2,"t":0.241,"q":0.4988},{"pan":"L4","g":2,"t":0.245,"q":0.49697},
{"pan":"L4","g":3,"t":0.3,"q":0.49641},{"pan":"L4","g":3,"t":0.305,"q":0.4949},{"pan":"L4","g":3,"t":0.3108,"q":0.4972},{"pan":"L4","g":3,"t":0.3152,"q":0.4951},{"pan":"L4","g":3,"t":0.3203,"q":0.4974},{"pan":"L4","g":3,"t":0.325,"q":0.49582},
{"pan":"L4","g":4,"t":0.64,"q":0.49634},{"pan":"L4","g":4,"t":0.6463,"q":0.4976},{"pan":"L4","g":4,"t":0.6565,"q":0.4945},{"pan":"L4","g":4,"t":0.6633,"q":0.4948},{"pan":"L4","g":4,"t":0.67,"q":0.49678},
{"pan":"L4","g":5,"t":0.72,"q":0.49767},{"pan":"L4","g":5,"t":0.7245,"q":0.4993},{"pan":"L4","g":5,"t":0.7364,"q":0.4963},{"pan":"L4","g":5,"t":0.74,"q":0.49804},
{"pan":"L4","g":6,"t":0.795,"q":0.49875},{"pan":"L4","g":6,"t":0.801,"q":0.5005},{"pan":"L4","g":6,"t":0.806,"q":0.4982},{"pan":"L4","g":6,"t":0.81,"q":0.49947},
{"pan":"L4","g":7,"t":0.86,"q":0.50052},{"pan":"L4","g":7,"t":0.8623,"q":0.5017},{"pan":"L4","g":7,"t":0.866,"q":0.4995},{"pan":"L4","g":7,"t":0.87,"q":0.50073},
{"pan":"L4","g":8,"t":0.92,"q":0.50175},{"pan":"L4","g":8,"t":0.9252,"q":0.5032},{"pan":"L4","g":8,"t":0.929,"q":0.5008},{"pan":"L4","g":8,"t":0.935,"q":0.50165},
{"pan":"L4","g":9,"t":0.985,"q":0.50262},{"pan":"L4","g":9,"t":0.988,"q":0.5043},{"pan":"L4","g":9,"t":0.993,"q":0.5022},{"pan":"L4","g":9,"t":1.0,"q":0.5042},
{"pan":"L7","g":1,"t":0.155,"w":0},{"pan":"L7","g":1,"t":0.1604,"w":-0.0005},{"pan":"L7","g":1,"t":0.165,"w":0.00245},{"pan":"L7","g":1,"t":0.1718,"w":0.00216},{"pan":"L7","g":1,"t":0.175,"w":-0.0002},{"pan":"L7","g":1,"t":0.1849,"w":-0.00136},{"pan":"L7","g":1,"t":0.1955,"w":0.00049},{"pan":"L7","g":1,"t":0.2,"w":0.00081},
{"pan":"L7","g":2,"t":0.22,"w":0.00081},{"pan":"L7","g":2,"t":0.2257,"w":0.00264},{"pan":"L7","g":2,"t":0.2325,"w":0.0011},{"pan":"L7","g":2,"t":0.2358,"w":-0.00153},{"pan":"L7","g":2,"t":0.2399,"w":0.0006},{"pan":"L7","g":2,"t":0.2427,"w":-0.00168},{"pan":"L7","g":2,"t":0.2467,"w":-0.00168},{"pan":"L7","g":2,"t":0.2557,"w":0.0011},{"pan":"L7","g":2,"t":0.26,"w":0.00072},
{"pan":"L7","g":3,"t":0.3,"w":0.00063},{"pan":"L7","g":3,"t":0.305,"w":0.00256},{"pan":"L7","g":3,"t":0.3118,"w":0.00139},{"pan":"L7","g":3,"t":0.3152,"w":-0.00132},{"pan":"L7","g":3,"t":0.3192,"w":-0.00183},{"pan":"L7","g":3,"t":0.3232,"w":-0.0017},{"pan":"L7","g":3,"t":0.3334,"w":0.00107},{"pan":"L7","g":3,"t":0.34,"w":0.00045},
{"pan":"L7","g":4,"t":0.64,"w":0.00063},{"pan":"L7","g":4,"t":0.6497,"w":0.0025},{"pan":"L7","g":4,"t":0.6565,"w":-0.0004},{"pan":"L7","g":4,"t":0.6633,"w":-0.0014},{"pan":"L7","g":4,"t":0.67,"w":-0.00049},
{"pan":"L7","g":5,"t":0.72,"w":0.00081},{"pan":"L7","g":5,"t":0.7262,"w":-0.0018},{"pan":"L7","g":5,"t":0.7296,"w":0.0004},{"pan":"L7","g":5,"t":0.7381,"w":-0.0018},{"pan":"L7","g":5,"t":0.74,"w":0.00081},
{"pan":"L7","g":6,"t":0.8,"w":0.0009},{"pan":"L7","g":6,"t":0.8044,"w":-0.0015},{"pan":"L7","g":6,"t":0.81,"w":-0.0007},
{"pan":"L7","g":8,"t":0.92,"w":0.0009},{"pan":"L7","g":8,"t":0.9235,"w":-0.0015},{"pan":"L7","g":8,"t":0.928,"w":0.0004},{"pan":"L7","g":8,"t":0.935,"w":0},
{"pan":"L7","g":9,"t":0.98,"w":0.00072},{"pan":"L7","g":9,"t":0.9864,"w":-0.0021},{"pan":"L7","g":9,"t":0.9915,"w":0.0018},{"pan":"L7","g":9,"t":0.9966,"w":-0.0021},{"pan":"L7","g":9,"t":1.0,"w":0.0005},
{"pan":"R3","g":1,"t":0.155,"pp":0.4994},{"pan":"R3","g":1,"t":0.1589,"pp":0.50248},{"pan":"R3","g":1,"t":0.1605,"pp":0.4989},{"pan":"R3","g":1,"t":0.175,"pp":0.4989},{"pan":"R3","g":1,"t":0.178,"pp":0.50379},{"pan":"R3","g":1,"t":0.18,"pp":0.49986},
{"pan":"R3","g":2,"t":0.2225,"pp":0.4993},{"pan":"R3","g":2,"t":0.224,"pp":0.4984},{"pan":"R3","g":2,"t":0.2365,"pp":0.4984},{"pan":"R3","g":2,"t":0.2382,"pp":0.5034},{"pan":"R3","g":2,"t":0.24,"pp":0.49982},
{"pan":"R3","g":3,"t":0.3,"pp":0.49978},{"pan":"R3","g":3,"t":0.3021,"pp":0.4984},{"pan":"R3","g":3,"t":0.315,"pp":0.4984},{"pan":"R3","g":3,"t":0.3167,"pp":0.5035},{"pan":"R3","g":3,"t":0.32,"pp":0.49974},
{"pan":"R3","g":4,"t":0.64,"pp":0.49978},{"pan":"R3","g":4,"t":0.6437,"pp":0.5006},{"pan":"R3","g":4,"t":0.6519,"pp":0.5006},{"pan":"R3","g":4,"t":0.6548,"pp":0.4955},{"pan":"R3","g":4,"t":0.66,"pp":0.49978},
{"pan":"R3","g":5,"t":0.72,"pp":0.49986},{"pan":"R3","g":5,"t":0.7216,"pp":0.5006},{"pan":"R3","g":5,"t":0.73,"pp":0.5006},{"pan":"R3","g":5,"t":0.7347,"pp":0.4956},{"pan":"R3","g":5,"t":0.74,"pp":0.49986},
{"pan":"R3","g":6,"t":0.785,"pp":0.499},{"pan":"R3","g":6,"t":0.7865,"pp":0.5006},{"pan":"R3","g":6,"t":0.792,"pp":0.5006},{"pan":"R3","g":6,"t":0.7937,"pp":0.4957},{"pan":"R3","g":6,"t":0.8,"pp":0.4999},
{"pan":"R3","g":7,"t":0.845,"pp":0.499},{"pan":"R3","g":7,"t":0.847,"pp":0.5006},{"pan":"R3","g":7,"t":0.853,"pp":0.5006},{"pan":"R3","g":7,"t":0.8546,"pp":0.4957},{"pan":"R3","g":7,"t":0.86,"pp":0.4999},
{"pan":"R3","g":8,"t":0.905,"pp":0.499},{"pan":"R3","g":8,"t":0.906,"pp":0.5006},{"pan":"R3","g":8,"t":0.912,"pp":0.5006},{"pan":"R3","g":8,"t":0.9138,"pp":0.4957},{"pan":"R3","g":8,"t":0.92,"pp":0.4999},
{"pan":"R3","g":9,"t":0.965,"pp":0.49905},{"pan":"R3","g":9,"t":0.967,"pp":0.5006},{"pan":"R3","g":9,"t":0.972,"pp":0.5006},{"pan":"R3","g":9,"t":0.9742,"pp":0.4961},{"pan":"R3","g":9,"t":0.98,"pp":0.49982},
{"pan":"R3","g":10,"t":0.99,"pp":0.49934},{"pan":"R3","g":10,"t":0.9966,"pp":0.4956},{"pan":"R3","g":10,"t":1.0,"pp":0.4999},
{"pan":"R4","g":1,"t":0.155,"qq":-0.0003},{"pan":"R4","g":1,"t":0.1594,"qq":0.00196},{"pan":"R4","g":1,"t":0.163,"qq":-0.0003},{"pan":"R4","g":1,"t":0.1752,"qq":-0.00228},{"pan":"R4","g":1,"t":0.1775,"qq":0.0006},{"pan":"R4","g":1,"t":0.18,"qq":0.0001},{"pan":"R4","g":1,"t":0.1885,"qq":0.0001},{"pan":"R4","g":1,"t":0.19,"qq":-0.00027},
{"pan":"R4","g":2,"t":0.225,"qq":-0.00063},{"pan":"R4","g":2,"t":0.2348,"qq":-0.00223},{"pan":"R4","g":2,"t":0.2399,"qq":0.00229},{"pan":"R4","g":2,"t":0.2425,"qq":0.0001},{"pan":"R4","g":2,"t":0.2525,"qq":0.0001},{"pan":"R4","g":2,"t":0.2586,"qq":-0.0006},{"pan":"R4","g":2,"t":0.265,"qq":-0.00056},
{"pan":"R4","g":3,"t":0.31,"qq":-0.00021},{"pan":"R4","g":3,"t":0.3142,"qq":-0.0023},{"pan":"R4","g":3,"t":0.3193,"qq":0.0024},{"pan":"R4","g":3,"t":0.322,"qq":0.0001},{"pan":"R4","g":3,"t":0.335,"qq":0.0001},{"pan":"R4","g":3,"t":0.339,"qq":-0.0005},{"pan":"R4","g":3,"t":0.345,"qq":-0.00035},
{"pan":"R4","g":4,"t":0.64,"qq":0.00028},{"pan":"R4","g":4,"t":0.6497,"qq":0.0023},{"pan":"R4","g":4,"t":0.6531,"qq":-0.0025},{"pan":"R4","g":4,"t":0.66,"qq":0.0001},{"pan":"R4","g":4,"t":0.665,"qq":-0.00049},
{"pan":"R4","g":5,"t":0.72,"qq":0.00036},{"pan":"R4","g":5,"t":0.7296,"qq":0.0023},{"pan":"R4","g":5,"t":0.7347,"qq":-0.0025},{"pan":"R4","g":5,"t":0.745,"qq":-0.00063},
{"pan":"R4","g":6,"t":0.785,"qq":-0.0007},{"pan":"R4","g":6,"t":0.7903,"qq":0.0023},{"pan":"R4","g":6,"t":0.7954,"qq":-0.0025},{"pan":"R4","g":6,"t":0.8,"qq":0.0004},
{"pan":"R4","g":7,"t":0.845,"qq":-0.0007},{"pan":"R4","g":7,"t":0.8495,"qq":0.0023},{"pan":"R4","g":7,"t":0.8546,"qq":-0.0025},{"pan":"R4","g":7,"t":0.86,"qq":0.0004},
{"pan":"R4","g":8,"t":0.905,"qq":-0.0007},{"pan":"R4","g":8,"t":0.9087,"qq":0.0023},{"pan":"R4","g":8,"t":0.9138,"qq":-0.0025},{"pan":"R4","g":8,"t":0.92,"qq":0.0004},
{"pan":"R4","g":9,"t":0.965,"qq":-0.00063},{"pan":"R4","g":9,"t":0.9691,"qq":0.0023},{"pan":"R4","g":9,"t":0.9742,"qq":-0.0025},{"pan":"R4","g":9,"t":0.98,"qq":0.00032},
{"pan":"R4","g":10,"t":0.99,"qq":-0.00024},{"pan":"R4","g":10,"t":0.995,"qq":0.0023},{"pan":"R4","g":10,"t":1.0,"qq":-0.0005},
{"pan":"R6","g":1,"t":0.155,"rr":0},{"pan":"R6","g":1,"t":0.1611,"rr":0.0022},{"pan":"R6","g":1,"t":0.164,"rr":0.0002},{"pan":"R6","g":1,"t":0.1752,"rr":0.0027},{"pan":"R6","g":1,"t":0.1775,"rr":0.0002},{"pan":"R6","g":1,"t":0.185,"rr":0.0002},{"pan":"R6","g":1,"t":0.19,"rr":-0.00054},
{"pan":"R6","g":2,"t":0.23,"rr":-0.00054},{"pan":"R6","g":2,"t":0.2347,"rr":0.00265},{"pan":"R6","g":2,"t":0.2381,"rr":0.0002},{"pan":"R6","g":2,"t":0.2416,"rr":0.00265},{"pan":"R6","g":2,"t":0.245,"rr":0.0001},{"pan":"R6","g":2,"t":0.255,"rr":-0.0001},{"pan":"R6","g":2,"t":0.2603,"rr":-0.0006},{"pan":"R6","g":2,"t":0.265,"rr":-0.00024},
{"pan":"R6","g":3,"t":0.31,"rr":-0.00042},{"pan":"R6","g":3,"t":0.3142,"rr":0.0027},{"pan":"R6","g":3,"t":0.3176,"rr":0.0002},{"pan":"R6","g":3,"t":0.321,"rr":0.0027},{"pan":"R6","g":3,"t":0.325,"rr":0.0001},{"pan":"R6","g":3,"t":0.335,"rr":0.0001},{"pan":"R6","g":3,"t":0.339,"rr":-0.00044},{"pan":"R6","g":3,"t":0.345,"rr":-0.00015},
{"pan":"R6","g":4,"t":0.64,"rr":0.00035},{"pan":"R6","g":4,"t":0.6514,"rr":-0.0027},{"pan":"R6","g":4,"t":0.6548,"rr":-0.0002},{"pan":"R6","g":4,"t":0.6582,"rr":-0.0027},{"pan":"R6","g":4,"t":0.665,"rr":-0.00021},
{"pan":"R6","g":5,"t":0.725,"rr":-0.00027},{"pan":"R6","g":5,"t":0.7313,"rr":-0.0025},{"pan":"R6","g":5,"t":0.733,"rr":-0.0002},{"pan":"R6","g":5,"t":0.7347,"rr":-0.0025},{"pan":"R6","g":5,"t":0.74,"rr":0.00045},
{"pan":"R6","g":6,"t":0.785,"rr":-0.0003},{"pan":"R6","g":6,"t":0.7937,"rr":-0.0022},{"pan":"R6","g":6,"t":0.8,"rr":0.0005},
{"pan":"R6","g":7,"t":0.845,"rr":-0.0003},{"pan":"R6","g":7,"t":0.8529,"rr":-0.0022},{"pan":"R6","g":7,"t":0.86,"rr":0.0005},
{"pan":"R6","g":8,"t":0.905,"rr":-0.0003},{"pan":"R6","g":8,"t":0.9121,"rr":-0.0025},{"pan":"R6","g":8,"t":0.9146,"rr":-0.0002},{"pan":"R6","g":8,"t":0.9172,"rr":-0.0025},{"pan":"R6","g":8,"t":0.92,"rr":0.0005},
{"pan":"R6","g":9,"t":0.965,"rr":-0.00027},{"pan":"R6","g":9,"t":0.9742,"rr":-0.0025},{"pan":"R6","g":9,"t":0.98,"rr":0.0004}
]
},
"columns":2,
"spacing":{"row":18,"column":158},
"bounds":"flush",
"resolve":{"scale":{"color":"independent","y":"independent"},"legend":{"color":"independent"}},
"concat":[
{"width":541,"height":120,"data":{"name":"s"},"mark":{"type":"line","interpolate":"monotone","strokeWidth":1.2,"clip":true},
 "encoding":{"x":{"field":"t","type":"quantitative","scale":{"domain":[0.08,1.0],"nice":false,"zero":false},"axis":{"title":null,"values":[0.1,0.2,0.3,0.4,0.5,0.6,0.7,0.8,0.9,1.0],"labels":false}},
  "y":{"field":"f","type":"quantitative","scale":{"domain":[49.669,50.5515],"nice":false,"zero":false},"axis":{"title":"Frequency [Hz]","values":[50,50.5],"format":".1f"}},
  "color":{"datum":"f","scale":{"domain":["f"],"range":["black"]},"legend":{"title":null,"orient":"none","legendX":452,"legendY":44,"labelFontStyle":"italic"}}}},
{"width":541,"height":120,"data":{"name":"s"},"mark":{"type":"line","interpolate":"monotone","strokeWidth":1.2,"clip":true},
 "encoding":{"x":{"field":"t","type":"quantitative","scale":{"domain":[0.08,1.0],"nice":false,"zero":false},"axis":{"title":null,"values":[0.1,0.2,0.3,0.4,0.5,0.6,0.7,0.8,0.9,1.0],"labels":false}},
  "y":{"field":"f","type":"quantitative","scale":{"domain":[49.669,50.5515],"nice":false,"zero":false},"axis":{"title":"Frequency [Hz]","values":[50,50.5],"format":".1f"}},
  "color":{"datum":"f","scale":{"domain":["f"],"range":["black"]},"legend":{"title":null,"orient":"none","legendX":452,"legendY":44,"labelFontStyle":"italic"}}}},
{"width":541,"height":120,
 "encoding":{"x":{"field":"t","type":"quantitative","scale":{"domain":[0.08,1.0],"nice":false,"zero":false},"axis":{"title":null,"values":[0.1,0.2,0.3,0.4,0.5,0.6,0.7,0.8,0.9,1.0],"labels":false}},
  "y":{"field":"n","type":"quantitative","scale":{"domain":[395.71,403.4],"nice":false,"zero":false},"axis":{"title":"MAW","titleX":-85,"values":[397.5,400,402.5],"format":".1f"}}},
 "layer":[
  {"data":{"name":"s"},"mark":{"type":"line","interpolate":"monotone","strokeWidth":1.2,"clip":true},"encoding":{"color":{"datum":"n","scale":{"domain":["n","nc","nr","nf"],"range":["black","#ff00ff","#00ffff","#008000"]},"legend":{"title":null,"orient":"none","legendX":442,"legendY":0,"labelFontStyle":"italic"}}}},
  {"data":{"name":"st"},"transform":[{"filter":"datum.s==='c'"}],"mark":{"type":"line","interpolate":"step-after","strokeWidth":1.2,"clip":true},"encoding":{"color":{"datum":"nc"}}},
  {"data":{"name":"st"},"transform":[{"filter":"datum.s==='r'"}],"mark":{"type":"line","interpolate":"step-after","strokeWidth":1.2,"clip":true},"encoding":{"color":{"datum":"nr"}}},
  {"data":{"name":"st"},"transform":[{"filter":"datum.s==='f'"}],"mark":{"type":"line","interpolate":"step-after","strokeWidth":1.2,"clip":true},"encoding":{"color":{"datum":"nf"}}}
 ]},
{"width":541,"height":120,
 "encoding":{"x":{"field":"t","type":"quantitative","scale":{"domain":[0.08,1.0],"nice":false,"zero":false},"axis":{"title":null,"values":[0.1,0.2,0.3,0.4,0.5,0.6,0.7,0.8,0.9,1.0],"labels":false}},
  "y":{"field":"n","type":"quantitative","scale":{"domain":[395.71,403.4],"nice":false,"zero":false},"axis":{"title":"MAW","titleX":-85,"values":[397.5,400,402.5],"format":".1f"}}},
 "layer":[
  {"data":{"name":"s"},"mark":{"type":"line","interpolate":"monotone","strokeWidth":1.2,"clip":true},"encoding":{"color":{"datum":"n","scale":{"domain":["n","nc","nr","nf"],"range":["black","#ff00ff","#00ffff","#008000"]},"legend":{"title":null,"orient":"none","legendX":442,"legendY":0,"labelFontStyle":"italic"}}}},
  {"data":{"name":"st"},"transform":[{"filter":"datum.s==='c'"}],"mark":{"type":"line","interpolate":"step-after","strokeWidth":1.2,"clip":true},"encoding":{"color":{"datum":"nc"}}},
  {"data":{"name":"st"},"transform":[{"filter":"datum.s==='r'"}],"mark":{"type":"line","interpolate":"step-after","strokeWidth":1.2,"clip":true},"encoding":{"color":{"datum":"nr"}}},
  {"data":{"name":"st"},"transform":[{"filter":"datum.s==='f'"}],"mark":{"type":"line","interpolate":"step-after","strokeWidth":1.2,"clip":true},"encoding":{"color":{"datum":"nf"}}}
 ]},
{"width":541,"height":120,
 "encoding":{"x":{"field":"t","type":"quantitative","scale":{"domain":[0.08,1.0],"nice":false,"zero":false},"axis":{"title":null,"values":[0.1,0.2,0.3,0.4,0.5,0.6,0.7,0.8,0.9,1.0],"labels":false}},
  "y":{"field":"p","type":"quantitative","scale":{"domain":[0.49733,0.50285],"nice":false,"zero":false},"axis":{"title":"Active [W]","values":[0.498,0.5,0.502],"format":".3f"}}},
 "layer":[
  {"data":{"name":"red"},"transform":[{"filter":"datum.pan==='L3'"}],"mark":{"type":"line","strokeWidth":1.2,"clip":true},"encoding":{"detail":{"field":"g"},"color":{"datum":"wama","scale":{"domain":["wama","hama"],"range":["#ff0000","#0000ff"]},"legend":{"title":null,"orient":"none","legendX":412,"legendY":29}}}},
  {"data":{"name":"g"},"mark":{"type":"line","strokeWidth":1.2,"clip":true},"encoding":{"color":{"datum":"hama"}}}
 ]},
{"width":541,"height":120,
 "encoding":{"x":{"field":"t","type":"quantitative","scale":{"domain":[0.08,1.0],"nice":false,"zero":false},"axis":{"title":null,"values":[0.1,0.2,0.3,0.4,0.5,0.6,0.7,0.8,0.9,1.0],"labels":false}},
  "y":{"field":"pp","type":"quantitative","scale":{"domain":[0.495152,0.504242],"nice":false,"zero":false},"axis":{"title":"Active [W]","values":[0.4975,0.5,0.5025],"format":".4f"}}},
 "layer":[
  {"data":{"name":"red"},"transform":[{"filter":"datum.pan==='R3'"}],"mark":{"type":"line","strokeWidth":1.2,"clip":true},"encoding":{"detail":{"field":"g"},"color":{"datum":"wama","scale":{"domain":["wama","hama"],"range":["#ff0000","#0000ff"]},"legend":{"title":null,"orient":"none","legendX":412,"legendY":29}}}},
  {"data":{"name":"g"},"mark":{"type":"line","strokeWidth":1.2,"clip":true},"encoding":{"color":{"datum":"hama"}}}
 ]},
{"width":541,"height":120,
 "encoding":{"x":{"field":"t","type":"quantitative","scale":{"domain":[0.08,1.0],"nice":false,"zero":false},"axis":{"title":null,"values":[0.1,0.2,0.3,0.4,0.5,0.6,0.7,0.8,0.9,1.0],"labels":false}},
  "y":{"field":"q","type":"quantitative","scale":{"domain":[0.494035,0.504561],"nice":false,"zero":false},"axis":{"title":"Reactive [Var]","values":[0.495,0.5],"format":".3f"}}},
 "layer":[
  {"data":{"name":"red"},"transform":[{"filter":"datum.pan==='L4'"}],"mark":{"type":"line","strokeWidth":1.2,"clip":true,"color":"#ff0000"},"encoding":{"detail":{"field":"g"}}},
  {"data":{"name":"g"},"mark":{"type":"line","strokeWidth":1.2,"clip":true,"color":"#0000ff"}}
 ]},
{"width":541,"height":120,
 "encoding":{"x":{"field":"t","type":"quantitative","scale":{"domain":[0.08,1.0],"nice":false,"zero":false},"axis":{"title":null,"values":[0.1,0.2,0.3,0.4,0.5,0.6,0.7,0.8,0.9,1.0],"labels":false}},
  "y":{"field":"qq","type":"quantitative","scale":{"domain":[-0.002742,0.002652],"nice":false,"zero":false},"axis":{"title":"Reactive [Var]","values":[-0.002,0,0.002],"format":".3f"}}},
 "layer":[
  {"data":{"name":"red"},"transform":[{"filter":"datum.pan==='R4'"}],"mark":{"type":"line","strokeWidth":1.2,"clip":true,"color":"#ff0000"},"encoding":{"detail":{"field":"g"}}},
  {"data":{"name":"g"},"mark":{"type":"line","strokeWidth":1.2,"clip":true,"color":"#0000ff"}}
 ]},
{"width":541,"height":120,"data":{"name":"g"},
 "encoding":{"x":{"field":"t","type":"quantitative","scale":{"domain":[0.08,1.0],"nice":false,"zero":false},"axis":{"title":null,"values":[0.1,0.2,0.3,0.4,0.5,0.6,0.7,0.8,0.9,1.0],"labels":false}},
  "y":{"field":"a","type":"quantitative","scale":{"domain":[-0.7867,0.8133],"nice":false,"zero":false},"axis":{"title":"Active [A]","values":[-0.5,0,0.5],"format":".1f"}}},
 "layer":[
  {"mark":{"type":"line","interpolate":"monotone","strokeWidth":1.4,"clip":true,"color":"#ff0000"}},
  {"mark":{"type":"line","interpolate":"monotone","strokeWidth":1.2,"clip":true,"color":"#0000ff"}}
 ]},
{"width":541,"height":120,"data":{"name":"g"},
 "encoding":{"x":{"field":"t","type":"quantitative","scale":{"domain":[0.08,1.0],"nice":false,"zero":false},"axis":{"title":null,"values":[0.1,0.2,0.3,0.4,0.5,0.6,0.7,0.8,0.9,1.0],"labels":false}},
  "y":{"field":"a","type":"quantitative","scale":{"domain":[-0.7867,0.8133],"nice":false,"zero":false},"axis":{"title":"Active [A]","values":[-0.5,0,0.5],"format":".1f"}}},
 "layer":[
  {"mark":{"type":"line","interpolate":"monotone","strokeWidth":1.4,"clip":true,"color":"#ff0000"}},
  {"mark":{"type":"line","interpolate":"monotone","strokeWidth":1.2,"clip":true,"color":"#0000ff"}}
 ]},
{"width":541,"height":120,"data":{"name":"g"},
 "encoding":{"x":{"field":"t","type":"quantitative","scale":{"domain":[0.08,1.0],"nice":false,"zero":false},"axis":{"title":null,"values":[0.1,0.2,0.3,0.4,0.5,0.6,0.7,0.8,0.9,1.0],"labels":false}},
  "y":{"field":"r","type":"quantitative","scale":{"domain":[-0.7867,0.8133],"nice":false,"zero":false},"axis":{"title":"Reactive [A]","values":[-0.5,0,0.5],"format":".1f"}}},
 "layer":[
  {"mark":{"type":"line","interpolate":"monotone","strokeWidth":1.4,"clip":true,"color":"#ff0000"}},
  {"mark":{"type":"line","interpolate":"monotone","strokeWidth":1.2,"clip":true,"color":"#0000ff"}}
 ]},
{"width":541,"height":120,
 "encoding":{"x":{"field":"t","type":"quantitative","scale":{"domain":[0.08,1.0],"nice":false,"zero":false},"axis":{"title":null,"values":[0.1,0.2,0.3,0.4,0.5,0.6,0.7,0.8,0.9,1.0],"labels":false}},
  "y":{"field":"rr","type":"quantitative","scale":{"domain":[-0.003,0.003],"nice":false,"zero":false},"axis":{"title":"Reactive [A]","values":[-0.002,0,0.002],"format":".3f"}}},
 "layer":[
  {"data":{"name":"red"},"transform":[{"filter":"datum.pan==='R6'"}],"mark":{"type":"line","strokeWidth":1.2,"clip":true,"color":"#ff0000"},"encoding":{"detail":{"field":"g"}}},
  {"data":{"name":"g"},"mark":{"type":"line","strokeWidth":1.2,"clip":true,"color":"#0000ff"}}
 ]},
{"width":541,"height":120,
 "encoding":{"x":{"field":"t","type":"quantitative","scale":{"domain":[0.08,1.0],"nice":false,"zero":false},"axis":{"title":"Time [s]","values":[0.1,0.2,0.3,0.4,0.5,0.6,0.7,0.8,0.9,1.0],"format":".1f"}},
  "y":{"field":"w","type":"quantitative","scale":{"domain":[-0.002348,0.00287],"nice":false,"zero":false},"axis":{"title":"Void [A]","values":[-0.002,0,0.002],"format":".3f"}}},
 "layer":[
  {"data":{"name":"red"},"transform":[{"filter":"datum.pan==='L7'"}],"mark":{"type":"line","strokeWidth":1.2,"clip":true,"color":"#ff0000"},"encoding":{"detail":{"field":"g"}}},
  {"data":{"name":"g"},"mark":{"type":"line","strokeWidth":1.2,"clip":true,"color":"#0000ff"}}
 ]},
{"width":541,"height":120,"data":{"name":"g"},
 "encoding":{"x":{"field":"t","type":"quantitative","scale":{"domain":[0.08,1.0],"nice":false,"zero":false},"axis":{"title":"Time [s]","values":[0.1,0.2,0.3,0.4,0.5,0.6,0.7,0.8,0.9,1.0],"format":".1f"}},
  "y":{"field":"v","type":"quantitative","scale":{"domain":[-0.0329,0.7566],"nice":false,"zero":false},"axis":{"title":"Void [A]","values":[0,0.5],"format":".1f"}}},
 "layer":[
  {"mark":{"type":"line","strokeWidth":1.4,"clip":true,"color":"#ff0000"}},
  {"mark":{"type":"line","strokeWidth":1.2,"clip":true,"color":"#0000ff"}}
 ]}
]
}
